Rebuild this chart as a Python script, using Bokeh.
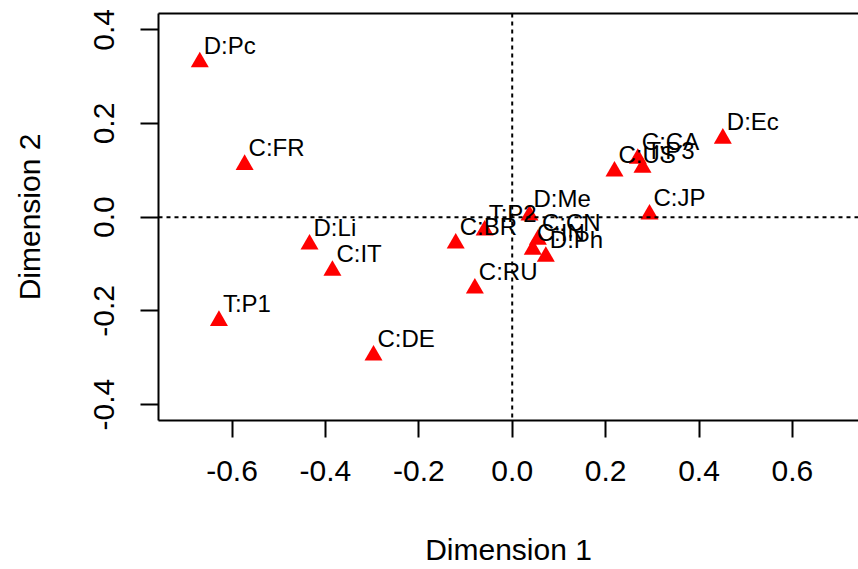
from bokeh.plotting import figure
from bokeh.models import (ColumnDataSource, Range1d, LinearAxis, FixedTicker,
                          PrintfTickFormatter, Span)
from bokeh.core.properties import value
from bokeh.embed import file_html
from bokeh.resources import INLINE

labels = ["D:Pc", "C:FR", "D:Li", "C:IT", "T:P1", "C:DE", "C:BR", "C:RU", "T:P2",
          "D:Me", "C:CN", "C:IN", "D:Ph", "C:US", "C:CA", "T:P3", "C:JP", "D:Ec"]
dim1 = [-0.669, -0.573, -0.434, -0.385, -0.628, -0.297, -0.121, -0.080, -0.059,
        0.037, 0.055, 0.044, 0.072, 0.219, 0.269, 0.279, 0.294, 0.451]
dim2 = [0.331, 0.112, -0.058, -0.114, -0.221, -0.295, -0.056, -0.152, -0.028,
        0.004, -0.048, -0.069, -0.084, 0.098, 0.125, 0.106, 0.006, 0.168]
x_ticks = [-0.6, -0.4, -0.2, 0.0, 0.2, 0.4, 0.6]
y_ticks = [-0.4, -0.2, 0.0, 0.2, 0.4]

src = ColumnDataSource(dict(x=dim1, y=dim2, lab=labels))

FONT = "Liberation Sans"

p = figure(width=858, height=569, output_backend="svg", toolbar_location=None,
           x_range=Range1d(-0.7574, 0.7415), y_range=Range1d(-0.434, 0.4348),
           x_axis_location=None, y_axis_location=None,
           min_border_left=158, min_border_right=0, min_border_top=13,
           min_border_bottom=149)
p.outline_line_color = None
p.xgrid.visible = False
p.ygrid.visible = False
p.background_fill_color = "white"
p.border_fill_color = "white"

xa = LinearAxis(ticker=FixedTicker(ticks=x_ticks),
                formatter=PrintfTickFormatter(format="%.1f"),
                axis_label="Dimension 1")
ya = LinearAxis(ticker=FixedTicker(ticks=y_ticks),
                formatter=PrintfTickFormatter(format="%.1f"),
                axis_label="Dimension 2")
top = LinearAxis(ticker=FixedTicker(ticks=[]))
for ax in (xa, ya, top):
    ax.axis_line_width = 2
    ax.axis_line_color = "black"
    ax.major_tick_line_width = 2
    ax.major_tick_line_color = "black"
    ax.major_tick_in = 0
    ax.minor_tick_out = 0
    ax.minor_tick_in = 0
    ax.major_label_text_font = FONT
    ax.major_label_text_font_size = "30px"
    ax.major_label_text_color = "black"
    ax.axis_label_text_font = FONT
    ax.axis_label_text_font_size = "30px"
    ax.axis_label_text_font_style = "normal"
    ax.axis_label_text_color = "black"
xa.major_tick_out = 17
xa.major_label_standoff = 23
xa.axis_label_standoff = 49
ya.major_tick_out = 18
ya.major_label_standoff = 26
ya.major_label_orientation = "parallel"
ya.axis_label_standoff = 46
top.major_tick_out = 0
top.major_label_standoff = 0
top.axis_label_standoff = 0
top.major_label_text_font_size = "0px"

p.add_layout(xa, "below")
p.add_layout(ya, "left")
p.add_layout(top, "above")

p.add_layout(Span(location=0, dimension="height", line_color="black",
                  line_width=2, line_dash="4 4"))
p.add_layout(Span(location=0, dimension="width", line_color="black",
                  line_width=2, line_dash="4 4"))

p.scatter("x", "y", source=src, marker="triangle", size=18,
          fill_color="red", line_color="red", line_width=0)
p.text("x", "y", text="lab", source=src, x_offset=4, y_offset=-17,
       text_font=value(FONT), text_font_size="24px", text_color="black",
       text_align="left", text_baseline="alphabetic")

open("out.html", "w").write(file_html(p, INLINE))
